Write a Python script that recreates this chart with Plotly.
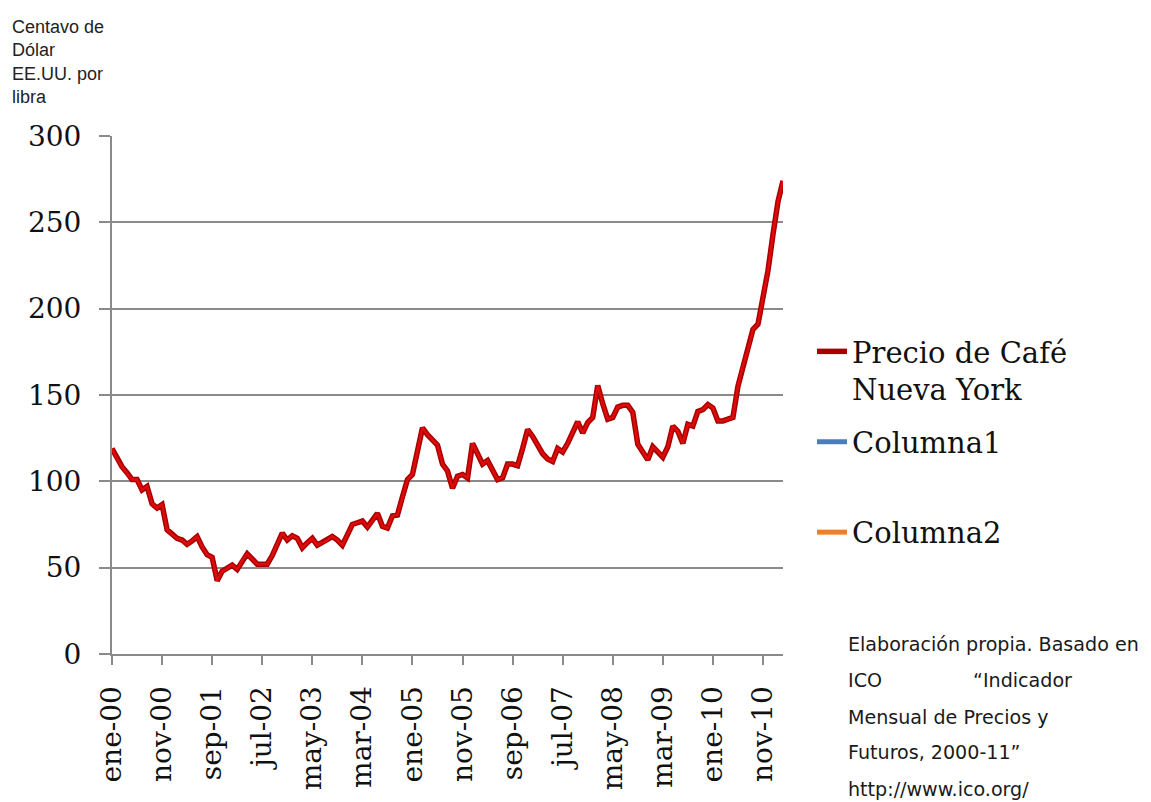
import plotly.graph_objects as go

# Monthly NY coffee price (US cents per lb), Jan 2000 .. Mar 2011
precio = [
    119, 113, 108.5, 105, 101, 101, 95, 97, 87, 84.5, 86.5, 72,          # 2000
    69, 67, 66, 63.5, 65.5, 68, 62, 57.5, 56, 42.5, 48, 49.5,             # 2001
    51.5, 49, 54, 58, 55, 52, 52, 52, 57, 64, 70, 66,                     # 2002
    68.5, 67, 61.5, 64.5, 67, 63, 64.5, 66, 68, 66, 63, 69,               # 2003
    75, 76, 77, 73.5, 77, 81.5, 74, 73, 80, 80.5, 91, 101,                # 2004
    104, 117, 131, 127, 124, 121, 110, 106, 96, 103, 104, 102,            # 2005
    122, 116, 110, 112, 106, 101, 102, 110, 110, 109, 119, 130,           # 2006
    126, 121, 116, 113, 111.5, 119, 117, 122, 128, 134.5, 128, 134,       # 2007
    137, 155.5, 145, 136, 137, 143, 144, 144, 140, 121.5, 117, 112.5,     # 2008
    120, 117.5, 114, 120, 132, 129, 122, 133, 132, 140.5, 141.5, 144.5,   # 2009
    142.5, 135, 135, 136, 137, 155, 167, 176, 188, 191, 207, 222,         # 2010
    243, 262, 274,                                                        # 2011
]
# Empty series that only appear in the legend
columna1 = [None]
columna2 = [None]

tick_labels = ["ene-00", "nov-00", "sep-01", "jul-02", "may-03", "mar-04", "ene-05",
               "nov-05", "sep-06", "jul-07", "may-08", "mar-09", "ene-10", "nov-10"]
tick_step = 10

y_ticks = [0, 50, 100, 150, 200, 250, 300]

series_names = ["Precio de Café<br>Nueva York", "Columna1<br>\u00a0", "Columna2"]
series_colors = ["#A80000", "#4A7EBB", "#F07F2A"]
highlight_color = "#DD0B0B"

source_lines = [
    "Elaboración propia. Basado en",
    "ICO" + "\u00a0" * 15 + "“Indicador",
    "Mensual de Precios y",
    "Futuros, 2000-11”",
    "http://www.ico.org/",
]

months = list(range(len(precio)))

fig = go.Figure()
fig.add_trace(go.Scatter(x=months, y=precio, mode="lines", name=series_names[0],
                         line=dict(color=series_colors[0], width=5.5),
                         legendgroup="a"))
fig.add_trace(go.Scatter(x=months, y=precio, mode="lines", showlegend=False,
                         line=dict(color=highlight_color, width=2.5),
                         hoverinfo="skip"))
fig.add_trace(go.Scatter(x=months[:len(columna1)], y=columna1, mode="lines",
                         name=series_names[1],
                         line=dict(color=series_colors[1], width=5),
                         legendgroup="b"))
fig.add_trace(go.Scatter(x=months[:len(columna2)], y=columna2, mode="lines",
                         name=series_names[2],
                         line=dict(color=series_colors[2], width=5),
                         legendgroup="c"))

# page body has an 8px margin, so the figure is drawn 8px smaller
W, H = 1143, 794
L, R, T, B = 104, 368, 128, 148
grid = "#8A8A8A"

fig.update_layout(
    width=W, height=H,
    margin=dict(l=L, r=R, t=T, b=B, pad=0),
    paper_bgcolor="white", plot_bgcolor="white",
    showlegend=True,
    legend=dict(
        xref="container", yref="container",
        x=804 / W, y=1 - 318 / H, xanchor="left", yanchor="top",
        font=dict(family="DejaVu Serif", size=29, color="#111"),
        traceorder="grouped", tracegroupgap=12, valign="top",
        bgcolor="rgba(0,0,0,0)",
    ),
    xaxis=dict(
        range=[0, len(precio) - 1],
        tickmode="array",
        tickvals=[i * tick_step for i in range(len(tick_labels))],
        ticktext=tick_labels,
        tickangle=-90,
        ticks="outside", ticklen=9, tickwidth=2, tickcolor=grid,
        showline=True, linecolor=grid, linewidth=2,
        showgrid=False, zeroline=False,
        tickfont=dict(family="DejaVu Serif", size=28, color="#111"),
        ticklabelstandoff=10,
    ),
    yaxis=dict(
        range=[0, 300],
        tickmode="array", tickvals=y_ticks,
        ticks="outside", ticklen=11, tickwidth=2, tickcolor=grid,
        showline=True, linecolor=grid, linewidth=2,
        showgrid=True, gridcolor=grid, gridwidth=2,
        zeroline=False,
        tickfont=dict(family="DejaVu Serif", size=28, color="#111"),
        ticklabelstandoff=12,
    ),
)

def px_to_paper_x(px):
    return (px - L) / (W - L - R)

def px_to_paper_y(py):
    return (H - B - py) / (H - T - B)

fig.add_annotation(
    text="Centavo de<br>Dólar<br>EE.UU. por<br>libra",
    xref="paper", yref="paper",
    x=px_to_paper_x(2), y=px_to_paper_y(7),
    xanchor="left", yanchor="top", align="left", showarrow=False,
    font=dict(family="Liberation Sans", size=18, color="#222"),
)

line_centers = [636, 672.5, 709, 744.5, 781]
for txt, cy in zip(source_lines, line_centers):
    fig.add_annotation(
        text=txt, xref="paper", yref="paper",
        x=px_to_paper_x(838), y=px_to_paper_y(cy),
        xanchor="left", yanchor="middle", align="left", showarrow=False,
        font=dict(family="DejaVu Sans", size=19.1, color="#1a1a1a"),
    )

fig.write_html("out.html")
